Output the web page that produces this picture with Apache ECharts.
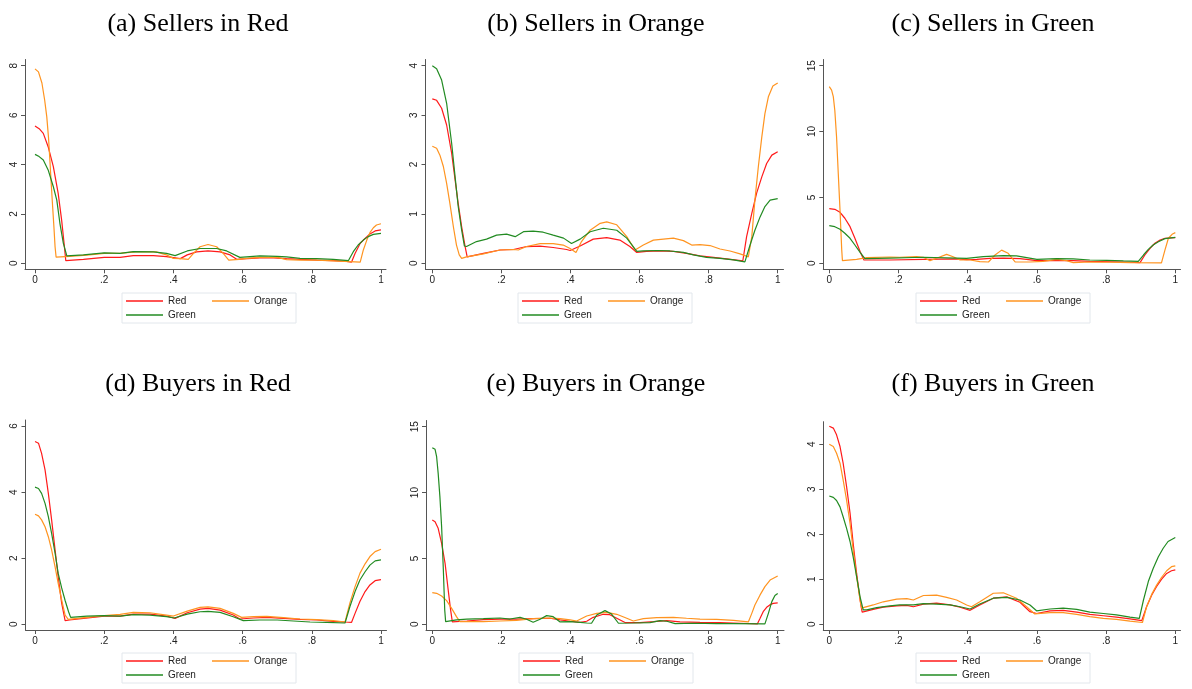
<!DOCTYPE html>
<html><head><meta charset="utf-8">
<script src="https://cdn.jsdelivr.net/npm/echarts@6/dist/echarts.min.js"></script>
<style>html,body{margin:0;padding:0;background:#fff}#c{width:1192px;height:689px}</style>
</head><body><div id="c"></div><script>
// ---- text ----
const panelTitles = ['(a) Sellers in Red','(b) Sellers in Orange','(c) Sellers in Green','(d) Buyers in Red','(e) Buyers in Orange','(f) Buyers in Green'];
const seriesNames = ['Red','Orange','Green'];
// ---- tick labels ----
const xTicks = [0,0.2,0.4,0.6,0.8,1];
const yTicksA = [0,2,4,6,8];
const yTicksB = [0,1,2,3,4];
const yTicksC = [0,5,10,15];
const yTicksD = [0,2,4,6];
const yTicksE = [0,5,10,15];
const yTicksF = [0,1,2,3,4];
// ---- data: [x, density] ----
const aRed = [[0,5.56],[0.012,5.45],[0.024,5.26],[0.038,4.72],[0.053,3.91],[0.067,2.83],[0.077,1.75],[0.084,0.81],[0.089,0.11],[0.14,0.16],[0.2,0.24],[0.246,0.24],[0.284,0.31],[0.342,0.31],[0.38,0.27],[0.4,0.23],[0.42,0.19],[0.44,0.34],[0.467,0.46],[0.5,0.5],[0.535,0.46],[0.564,0.34],[0.583,0.16],[0.602,0.18],[0.65,0.22],[0.69,0.22],[0.727,0.19],[0.766,0.16],[0.814,0.13],[0.862,0.11],[0.9,0.08],[0.915,0.05],[0.925,0.4],[0.94,0.81],[0.954,1.01],[0.968,1.19],[0.983,1.31],[1,1.35]];
const aOrange = [[0,7.87],[0.01,7.75],[0.02,7.3],[0.028,6.6],[0.034,5.94],[0.039,5.1],[0.043,4.18],[0.047,3.2],[0.051,2.29],[0.055,1.4],[0.058,0.67],[0.061,0.25],[0.063,0.17],[0.1,0.28],[0.15,0.33],[0.2,0.4],[0.25,0.41],[0.3,0.47],[0.35,0.46],[0.38,0.34],[0.4,0.2],[0.42,0.19],[0.443,0.16],[0.458,0.4],[0.477,0.67],[0.5,0.76],[0.525,0.67],[0.544,0.4],[0.56,0.13],[0.59,0.16],[0.61,0.2],[0.65,0.24],[0.7,0.24],[0.727,0.15],[0.766,0.13],[0.814,0.13],[0.862,0.1],[0.91,0.07],[0.94,0.05],[0.949,0.54],[0.959,0.94],[0.968,1.24],[0.978,1.44],[0.987,1.55],[1,1.6]];
const aGreen = [[0,4.41],[0.012,4.32],[0.024,4.18],[0.038,3.78],[0.053,3.1],[0.063,2.56],[0.072,1.62],[0.082,0.81],[0.092,0.3],[0.096,0.28],[0.14,0.34],[0.2,0.42],[0.246,0.4],[0.284,0.47],[0.342,0.46],[0.38,0.4],[0.405,0.31],[0.44,0.5],[0.477,0.6],[0.525,0.6],[0.554,0.5],[0.592,0.24],[0.65,0.3],[0.7,0.28],[0.727,0.26],[0.766,0.2],[0.814,0.19],[0.862,0.16],[0.906,0.11],[0.92,0.47],[0.934,0.74],[0.949,0.94],[0.963,1.08],[0.978,1.17],[1,1.21]];

const bRed = [[0,3.33],[0.0125,3.3],[0.027,3.14],[0.0415,2.8],[0.056,2.23],[0.066,1.69],[0.075,1.21],[0.085,0.74],[0.095,0.34],[0.101,0.13],[0.148,0.2],[0.196,0.27],[0.235,0.28],[0.273,0.34],[0.312,0.35],[0.35,0.32],[0.389,0.28],[0.399,0.26],[0.428,0.35],[0.466,0.49],[0.505,0.52],[0.543,0.47],[0.572,0.34],[0.592,0.22],[0.62,0.24],[0.659,0.25],[0.698,0.24],[0.736,0.2],[0.775,0.15],[0.814,0.12],[0.852,0.09],[0.899,0.05],[0.91,0.54],[0.925,1.01],[0.939,1.42],[0.954,1.75],[0.968,2.02],[0.983,2.19],[1,2.26]];
const bOrange = [[0,2.37],[0.0125,2.33],[0.022,2.19],[0.032,1.96],[0.0415,1.62],[0.051,1.21],[0.061,0.74],[0.07,0.37],[0.078,0.17],[0.085,0.1],[0.099,0.13],[0.148,0.19],[0.196,0.27],[0.235,0.28],[0.249,0.27],[0.273,0.34],[0.312,0.4],[0.35,0.4],[0.379,0.37],[0.399,0.3],[0.416,0.22],[0.432,0.44],[0.457,0.67],[0.486,0.81],[0.505,0.84],[0.534,0.78],[0.563,0.54],[0.587,0.27],[0.611,0.37],[0.64,0.47],[0.669,0.49],[0.698,0.51],[0.727,0.46],[0.751,0.37],[0.775,0.38],[0.804,0.36],[0.833,0.29],[0.862,0.25],[0.891,0.19],[0.915,0.13],[0.925,0.54],[0.934,1.28],[0.944,1.96],[0.954,2.56],[0.963,3.03],[0.973,3.37],[0.986,3.59],[1,3.65]];
const bGreen = [[0,4.0],[0.0125,3.94],[0.027,3.71],[0.0415,3.24],[0.056,2.43],[0.066,1.75],[0.075,1.15],[0.085,0.67],[0.093,0.35],[0.099,0.34],[0.128,0.44],[0.157,0.49],[0.186,0.57],[0.215,0.59],[0.24,0.54],[0.264,0.64],[0.292,0.65],[0.321,0.63],[0.35,0.57],[0.38,0.51],[0.403,0.4],[0.428,0.49],[0.457,0.64],[0.495,0.71],[0.534,0.67],[0.563,0.51],[0.592,0.24],[0.611,0.25],[0.65,0.26],[0.688,0.25],[0.727,0.22],[0.756,0.17],[0.794,0.12],[0.833,0.1],[0.872,0.07],[0.905,0.03],[0.92,0.37],[0.934,0.67],[0.949,0.94],[0.963,1.15],[0.978,1.28],[1,1.31]];

const cRed = [[0,4.15],[0.016,4.1],[0.031,3.87],[0.045,3.42],[0.06,2.78],[0.074,1.9],[0.089,0.89],[0.1,0.25],[0.175,0.25],[0.272,0.3],[0.368,0.33],[0.397,0.28],[0.426,0.3],[0.464,0.38],[0.503,0.4],[0.551,0.35],[0.6,0.2],[0.657,0.2],[0.705,0.2],[0.753,0.15],[0.85,0.1],[0.898,0.05],[0.912,0.63],[0.927,1.14],[0.941,1.52],[0.956,1.77],[0.97,1.9],[1,1.95]];
const cOrange = [[0,13.41],[0.0067,13.15],[0.0116,12.65],[0.016,11.6],[0.021,9.6],[0.026,6.8],[0.031,4.05],[0.036,1.0],[0.038,0.2],[0.079,0.3],[0.108,0.43],[0.175,0.48],[0.204,0.46],[0.252,0.5],[0.272,0.46],[0.291,0.2],[0.31,0.38],[0.339,0.68],[0.358,0.5],[0.378,0.25],[0.407,0.25],[0.435,0.13],[0.46,0.1],[0.479,0.63],[0.498,1.0],[0.517,0.76],[0.537,0.1],[0.58,0.1],[0.618,0.15],[0.657,0.3],[0.686,0.2],[0.705,0.05],[0.753,0.1],[0.811,0.08],[0.869,0.05],[0.96,0.03],[0.97,1.0],[0.98,1.9],[0.992,2.23],[1,2.33]];
const cGreen = [[0,2.86],[0.016,2.78],[0.031,2.58],[0.045,2.28],[0.06,1.9],[0.074,1.39],[0.089,0.83],[0.103,0.35],[0.175,0.4],[0.272,0.46],[0.368,0.4],[0.397,0.38],[0.445,0.5],[0.503,0.58],[0.541,0.56],[0.6,0.3],[0.657,0.35],[0.705,0.33],[0.753,0.25],[0.802,0.23],[0.85,0.18],[0.893,0.15],[0.908,0.63],[0.922,1.06],[0.936,1.39],[0.951,1.64],[0.97,1.87],[1,1.97]];

const dRed = [[0,5.53],[0.01,5.48],[0.019,5.17],[0.029,4.67],[0.0385,3.96],[0.048,3.16],[0.058,2.25],[0.067,1.44],[0.077,0.64],[0.087,0.11],[0.1,0.13],[0.14,0.18],[0.2,0.25],[0.246,0.25],[0.284,0.31],[0.332,0.31],[0.38,0.25],[0.405,0.18],[0.44,0.35],[0.477,0.46],[0.5,0.48],[0.535,0.43],[0.573,0.28],[0.592,0.16],[0.631,0.19],[0.67,0.21],[0.718,0.18],[0.766,0.15],[0.814,0.13],[0.862,0.09],[0.896,0.07],[0.915,0.06],[0.925,0.33],[0.939,0.69],[0.954,0.99],[0.968,1.19],[0.983,1.32],[1,1.35]];
const dOrange = [[0,3.33],[0.01,3.28],[0.019,3.16],[0.029,2.95],[0.0385,2.65],[0.048,2.25],[0.058,1.74],[0.067,1.24],[0.077,0.74],[0.087,0.28],[0.096,0.15],[0.15,0.21],[0.2,0.26],[0.246,0.3],[0.284,0.36],[0.332,0.35],[0.38,0.28],[0.4,0.25],[0.44,0.4],[0.477,0.51],[0.5,0.53],[0.535,0.48],[0.573,0.33],[0.597,0.21],[0.631,0.23],[0.67,0.24],[0.718,0.2],[0.766,0.16],[0.814,0.14],[0.862,0.11],[0.896,0.07],[0.91,0.64],[0.925,1.14],[0.939,1.54],[0.954,1.83],[0.968,2.05],[0.983,2.2],[1,2.27]];
const dGreen = [[0,4.15],[0.01,4.11],[0.019,3.96],[0.029,3.66],[0.0385,3.26],[0.048,2.75],[0.058,2.15],[0.067,1.54],[0.077,1.1],[0.087,0.72],[0.097,0.38],[0.103,0.21],[0.15,0.25],[0.2,0.26],[0.246,0.25],[0.284,0.29],[0.332,0.28],[0.38,0.23],[0.402,0.19],[0.44,0.31],[0.477,0.38],[0.5,0.39],[0.535,0.36],[0.573,0.23],[0.602,0.11],[0.65,0.13],[0.7,0.13],[0.747,0.1],[0.795,0.07],[0.843,0.06],[0.896,0.04],[0.91,0.53],[0.925,0.99],[0.939,1.34],[0.954,1.59],[0.968,1.79],[0.983,1.92],[1,1.95]];

const eRed = [[0,7.92],[0.008,7.79],[0.017,7.29],[0.027,6.15],[0.037,4.63],[0.046,2.61],[0.053,1.09],[0.058,0.18],[0.1,0.25],[0.148,0.35],[0.196,0.4],[0.244,0.4],[0.292,0.43],[0.341,0.46],[0.37,0.33],[0.399,0.23],[0.428,0.15],[0.447,0.23],[0.466,0.53],[0.495,0.76],[0.514,0.73],[0.534,0.46],[0.558,0.13],[0.601,0.13],[0.64,0.2],[0.679,0.28],[0.717,0.18],[0.775,0.15],[0.833,0.13],[0.891,0.08],[0.941,0.03],[0.949,0.46],[0.958,0.96],[0.968,1.29],[0.978,1.49],[0.987,1.59],[1,1.62]];
const eOrange = [[0,2.4],[0.0125,2.35],[0.027,2.15],[0.0415,1.8],[0.056,1.21],[0.07,0.58],[0.08,0.2],[0.085,0.15],[0.148,0.2],[0.196,0.25],[0.244,0.3],[0.292,0.43],[0.341,0.48],[0.37,0.43],[0.399,0.33],[0.418,0.25],[0.447,0.63],[0.476,0.83],[0.505,0.91],[0.534,0.76],[0.563,0.46],[0.582,0.25],[0.611,0.43],[0.65,0.51],[0.698,0.53],[0.736,0.46],[0.775,0.4],[0.823,0.38],[0.872,0.3],[0.915,0.18],[0.925,0.83],[0.934,1.47],[0.949,2.23],[0.963,2.86],[0.978,3.36],[1,3.67]];
const eGreen = [[0,13.41],[0.008,13.28],[0.0125,12.72],[0.017,11.46],[0.022,9.69],[0.027,7.41],[0.032,4.12],[0.036,1.09],[0.0386,0.2],[0.07,0.33],[0.1,0.4],[0.148,0.43],[0.196,0.48],[0.225,0.4],[0.254,0.53],[0.273,0.38],[0.292,0.15],[0.312,0.38],[0.331,0.66],[0.35,0.58],[0.37,0.18],[0.399,0.2],[0.428,0.15],[0.447,0.1],[0.461,0.08],[0.476,0.71],[0.5,1.04],[0.519,0.78],[0.539,0.08],[0.582,0.1],[0.63,0.13],[0.659,0.28],[0.679,0.23],[0.703,0.05],[0.756,0.08],[0.823,0.05],[0.872,0.05],[0.963,0.03],[0.973,0.83],[0.983,1.72],[0.992,2.18],[1,2.33]];

const fRed = [[0,4.4],[0.0116,4.36],[0.021,4.21],[0.031,3.95],[0.04,3.58],[0.05,3.06],[0.06,2.47],[0.069,1.8],[0.079,1.13],[0.089,0.54],[0.095,0.27],[0.127,0.33],[0.156,0.38],[0.195,0.41],[0.224,0.42],[0.243,0.39],[0.272,0.45],[0.31,0.47],[0.349,0.43],[0.378,0.38],[0.407,0.31],[0.435,0.43],[0.474,0.58],[0.513,0.61],[0.551,0.49],[0.58,0.28],[0.599,0.24],[0.638,0.3],[0.676,0.31],[0.715,0.27],[0.753,0.22],[0.792,0.19],[0.83,0.16],[0.869,0.12],[0.903,0.08],[0.917,0.39],[0.932,0.65],[0.946,0.84],[0.96,1.0],[0.975,1.13],[0.989,1.19],[1,1.21]];
const fOrange = [[0,4.0],[0.0116,3.95],[0.021,3.8],[0.031,3.58],[0.04,3.21],[0.05,2.76],[0.06,2.24],[0.069,1.65],[0.079,1.06],[0.089,0.54],[0.093,0.36],[0.098,0.34],[0.127,0.43],[0.156,0.5],[0.195,0.56],[0.224,0.57],[0.243,0.54],[0.272,0.64],[0.31,0.65],[0.339,0.6],[0.368,0.54],[0.397,0.43],[0.411,0.39],[0.435,0.5],[0.474,0.69],[0.503,0.7],[0.541,0.58],[0.57,0.39],[0.594,0.23],[0.638,0.26],[0.676,0.26],[0.715,0.22],[0.753,0.17],[0.792,0.13],[0.83,0.11],[0.869,0.07],[0.905,0.04],[0.917,0.39],[0.932,0.67],[0.946,0.87],[0.96,1.04],[0.975,1.19],[0.989,1.28],[1,1.3]];
const fGreen = [[0,2.85],[0.0116,2.82],[0.021,2.75],[0.031,2.61],[0.04,2.39],[0.05,2.13],[0.06,1.84],[0.069,1.5],[0.079,1.06],[0.089,0.61],[0.098,0.32],[0.108,0.32],[0.137,0.37],[0.175,0.41],[0.204,0.43],[0.243,0.43],[0.272,0.46],[0.31,0.45],[0.349,0.43],[0.378,0.39],[0.407,0.34],[0.435,0.45],[0.474,0.58],[0.513,0.6],[0.551,0.54],[0.58,0.43],[0.599,0.3],[0.638,0.34],[0.676,0.36],[0.715,0.33],[0.753,0.27],[0.792,0.24],[0.83,0.21],[0.869,0.16],[0.896,0.13],[0.908,0.54],[0.922,0.95],[0.936,1.24],[0.951,1.5],[0.965,1.69],[0.979,1.84],[1,1.93]];

// ---- layout (pixels) and axis ranges ----
const colors = {Red:'#ff1a1a', Orange:'#ff9420', Green:'#228b22'};
const panels = [
  {data:[aRed,aOrange,aGreen], yTicks:yTicksA, grid:{left:25,top:59.5,width:361,height:209.8}, x:[-0.0289,1.0145], y:[-0.243,8.251], cx:198, ty:10, lg:{left:122,top:293}},
  {data:[bRed,bOrange,bGreen], yTicks:yTicksB, grid:{left:425.5,top:59.5,width:358,height:209.8}, x:[-0.0197,1.0168], y:[-0.121,4.126], cx:596, ty:10, lg:{left:518,top:293}},
  {data:[cRed,cOrange,cGreen], yTicks:yTicksC, grid:{left:823.3,top:59.5,width:357.2,height:209.8}, x:[-0.0173,1.015], y:[-0.455,15.47], cx:993, ty:10, lg:{left:916,top:293}},
  {data:[dRed,dOrange,dGreen], yTicks:yTicksD, grid:{left:25.5,top:420,width:361,height:210}, x:[-0.0275,1.0159], y:[-0.1725,6.1815], cx:198, ty:370, lg:{left:122,top:653}},
  {data:[eRed,eOrange,eGreen], yTicks:yTicksE, grid:{left:426,top:420.5,width:358,height:209.5}, x:[-0.01824,1.01824], y:[-0.4327,15.471], cx:596, ty:370, lg:{left:519,top:653}},
  {data:[fRed,fOrange,fGreen], yTicks:yTicksF, grid:{left:823.3,top:421.7,width:357.2,height:208.3}, x:[-0.0173,1.015], y:[-0.1267,4.502], cx:993, ty:370, lg:{left:916,top:653}}
];

const axisColor = '#555';
const labelFont = {fontFamily:'Liberation Sans, Arial, sans-serif', fontSize:10, color:'#222'};
const fmtX = v => (v === 0 || v === 1) ? String(v) : String(v).replace(/^0/, '');
const lineIcon = 'path://M0,0 L37,0 L37,1.3 L0,1.3 Z';

const option = {
  animation:false,
  backgroundColor:'#fff',
  title:[], grid:[], xAxis:[], yAxis:[], legend:[], series:[]
};
panels.forEach((p,i) => {
  option.title.push({text:panelTitles[i], left:p.cx, top:p.ty, textAlign:'center', padding:0,
    textStyle:{fontFamily:'Liberation Serif, Times New Roman, serif', fontSize:26, fontWeight:'normal', color:'#000', lineHeight:28}});
  option.grid.push(Object.assign({containLabel:false}, p.grid));
  option.xAxis.push({type:'value', gridIndex:i, min:p.x[0], max:p.x[1],
    axisLine:{show:true, onZero:false, lineStyle:{color:axisColor,width:1}},
    axisTick:{show:true, length:4, customValues:xTicks, lineStyle:{color:axisColor,width:1}},
    axisLabel:Object.assign({customValues:xTicks, margin:6, formatter:fmtX}, labelFont),
    splitLine:{show:false}});
  option.yAxis.push({type:'value', gridIndex:i, min:p.y[0], max:p.y[1],
    axisLine:{show:true, onZero:false, lineStyle:{color:axisColor,width:1}},
    axisTick:{show:true, length:4, customValues:p.yTicks, lineStyle:{color:axisColor,width:1}},
    axisLabel:Object.assign({customValues:p.yTicks, margin:6, rotate:90, formatter:v=>String(v)}, labelFont),
    splitLine:{show:false}});
  option.legend.push({data:seriesNames, left:p.lg.left, top:p.lg.top, orient:'horizontal', width:170,
    icon:lineIcon, itemGap:4, itemWidth:37, itemHeight:10, padding:[3,2,3,4], selectedMode:false,
    borderColor:'#e2e7ec', borderWidth:1, borderRadius:0, backgroundColor:'#fff',
    textStyle:{fontFamily:'Liberation Sans, Arial, sans-serif', fontSize:10, color:'#222', lineHeight:10, width:40}});
  seriesNames.forEach((n,k) => {
    option.series.push({type:'line', name:n, xAxisIndex:i, yAxisIndex:i, data:p.data[k],
      symbol:'none', smooth:false, clip:false,
      lineStyle:{color:colors[n], width:1.2}, itemStyle:{color:colors[n]}});
  });
});
const chart = echarts.init(document.getElementById('c'), null, {renderer:'canvas'});
chart.setOption(option);
</script></body></html>
